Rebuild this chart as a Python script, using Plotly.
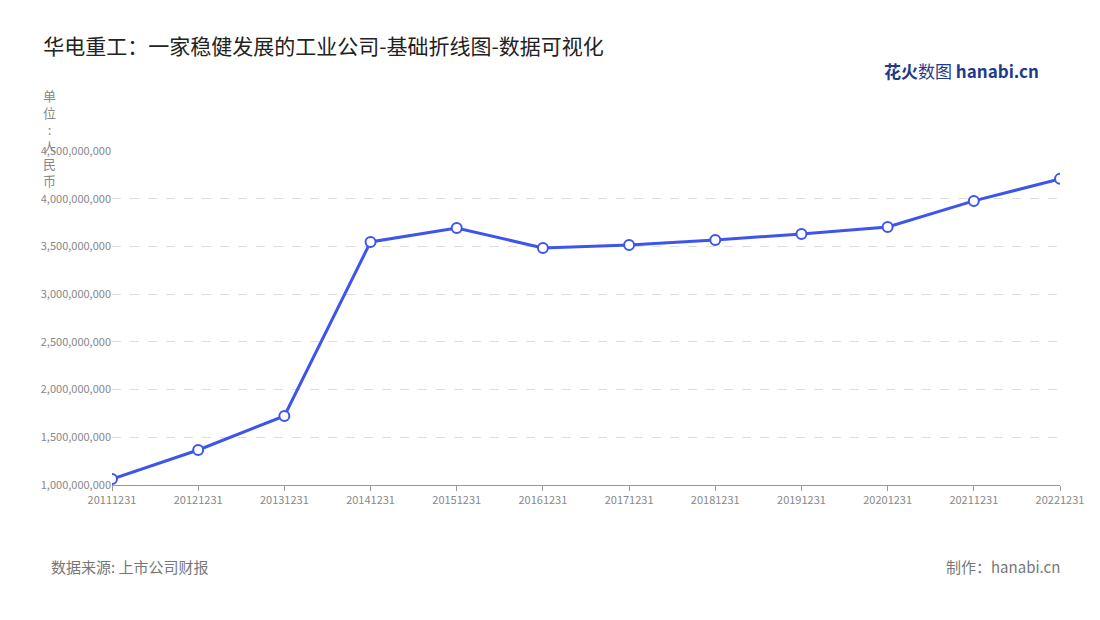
import plotly.graph_objects as go

years = ['20111231', '20121231', '20131231', '20141231', '20151231', '20161231',
         '20171231', '20181231', '20191231', '20201231', '20211231', '20221231']
revenue = [1.063e9, 1.367e9, 1.723e9, 3.547e9, 3.694e9, 3.484e9,
           3.516e9, 3.568e9, 3.631e9, 3.704e9, 3.977e9, 4.208e9]
y_ticks = [1.0e9, 1.5e9, 2.0e9, 2.5e9, 3.0e9, 3.5e9, 4.0e9, 4.5e9]

font = "Noto Sans CJK SC"
fig = go.Figure()
fig.add_trace(go.Scatter(
    x=years, y=revenue, mode='lines+markers',
    line=dict(color='#3d55ea', width=3),
    marker=dict(size=10, color='white', line=dict(color='#3d55ea', width=2)),
    hoverinfo='x+y'))

fig.update_layout(
    width=1100, height=620, plot_bgcolor='white', paper_bgcolor='white',
    margin=dict(l=104, r=48, t=143, b=143),
    showlegend=False,
    font=dict(family=font, color='#888', size=11),
    title=dict(text='华电重工：一家稳健发展的工业公司-基础折线图-数据可视化',
               x=0.032, y=0.95, xanchor='left',
               font=dict(size=21, color='#222', family=font)),
    xaxis=dict(type='category', range=[0, 11], showgrid=False, ticks='outside',
               ticklen=5, tickcolor='#999', showline=True, linecolor='#999',
               tickfont=dict(size=11, color='#888')),
    yaxis=dict(range=[1.0e9, 4.5e9], tickvals=y_ticks,
               ticktext=[f'{v:,.0f}' for v in y_ticks],
               gridcolor='#ddd', griddash='dash', zeroline=False,
               tickfont=dict(size=11, color='#888')),
)
fig.add_annotation(text='单<br>位<br>:<br>人<br>民<br>币', xref='paper', yref='paper',
                   x=-0.066, y=1.2, xanchor='center', yanchor='top', showarrow=False,
                   align='center', font=dict(size=13, color='#888'))
fig.add_annotation(text='数据来源: 上市公司财报', xref='paper', yref='paper',
                   x=-0.066, y=-0.28, xanchor='left', showarrow=False,
                   font=dict(size=15, color='#777'))
fig.add_annotation(text='制作：hanabi.cn', xref='paper', yref='paper',
                   x=1.002, y=-0.28, xanchor='right', showarrow=False,
                   font=dict(size=15, color='#777'))
fig.add_annotation(text='<b>花火</b>数图 <b>hanabi.cn</b>', xref='paper', yref='paper',
                   x=0.98, y=1.285, xanchor='right', showarrow=False,
                   font=dict(size=17, color='#1f3a8a'))
fig.write_html("out.html")
